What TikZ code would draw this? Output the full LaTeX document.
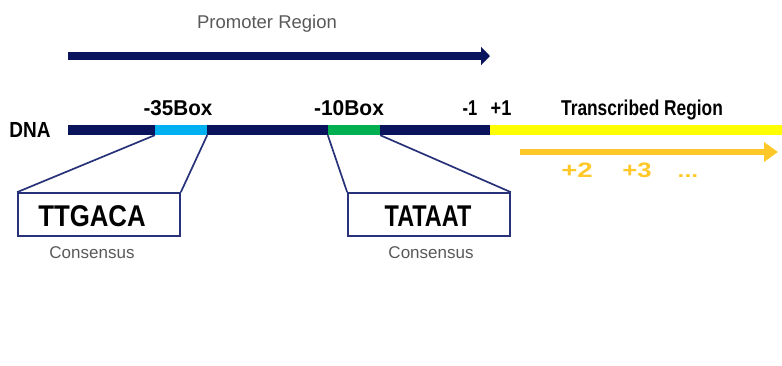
\documentclass[tikz,border=0pt]{standalone}
\usepackage{fontspec}
\setmainfont{Liberation Sans}
\usetikzlibrary{arrows.meta}

\definecolor{navy}{RGB}{10,20,92}
\definecolor{boxline}{RGB}{40,50,120}
\definecolor{skyseg}{RGB}{0,176,240}
\definecolor{greenseg}{RGB}{0,176,80}
\definecolor{yellowseg}{RGB}{255,255,0}
\definecolor{gold}{RGB}{255,200,40}
\definecolor{greytext}{RGB}{89,89,89}

\begin{document}
\begin{tikzpicture}[x=1pt,y=-1pt,
  seg/.style={rectangle, inner sep=0pt, minimum height=10pt, draw=none},
  conbox/.style={rectangle, draw=boxline, line width=1.7pt, inner sep=0pt,
                 minimum width=162pt, minimum height=43pt},
  link/.style={draw=boxline, line width=1.7pt},
  caption/.style={text=greytext, font=\fontsize{17}{20}\selectfont, inner sep=0pt},
  marker/.style={font=\bfseries\fontsize{16.5}{20}\selectfont, inner sep=0pt, anchor=base},
  seqtext/.style={font=\bfseries\fontsize{30}{34}\selectfont, inner sep=0pt, anchor=base},
  posnum/.style={text=gold, font=\bfseries\fontsize{19}{24}\selectfont, inner sep=0pt, anchor=base}]

\useasboundingbox (0,0) rectangle (782,365);

% promoter arrow and its caption
\coordinate (ps) at (68,56);
\coordinate (pe) at (490,56);
\draw[navy, line width=8pt, -{Triangle[length=9pt,width=18pt]}] (ps) -- (pe);
\node[caption, font=\fontsize{18.5}{22}\selectfont] (promlabel) at (267,24) {Promoter Region};

% DNA strand: promoter part, boxes, transcribed part
\node[seg, fill=navy, minimum width=422pt] (dna) at (279,130) {};
\node[seg, fill=skyseg, minimum width=52pt] (m35) at (181,130) {};
\node[seg, fill=greenseg, minimum width=52pt] (m10) at (354,130) {};
\node[seg, fill=yellowseg, minimum width=292pt, minimum height=9.5pt] (trx) at (636,129.75) {};
\node[font=\bfseries\fontsize{19}{24}\selectfont, inner sep=0pt] (dnalabel) at (30,130) {\scalebox{1}[1.15]{DNA}};

% labels above the strand
\node[marker] (l35) at (178,115) {\scalebox{1.25}[1.3]{-35Box}};
\node[marker] (l10) at (349,115) {\scalebox{1.27}[1.3]{-10Box}};
\node[marker] (lm1) at (470,115) {\scalebox{1}[1.3]{-1}};
\node[marker] (lp1) at (501,115) {\scalebox{1.1}[1.3]{+1}};
\node[marker] (ltr) at (642,115) {\scalebox{1.05}[1.3]{Transcribed Region}};

% direction of transcription
\coordinate (ts) at (520,152);
\coordinate (te) at (778,152);
\draw[gold, line width=6pt, -{Triangle[length=14pt,width=19pt]}] (ts) -- (te);
\node[posnum] (p2) at (577,177) {\scalebox{1.45}[1.1]{+2}};
\node[posnum] (p3) at (637,177) {\scalebox{1.35}[1.1]{+3}};
\node[posnum] (pdots) at (688,177) {\scalebox{1.3}[1]{...}};

% consensus boxes
\node[conbox] (c35) at (99,214.5) {};
\node[conbox] (c10) at (429,214.5) {};
\node[seqtext] (s35) at (92,226) {\scalebox{0.86}[1]{TTGACA}};
\node[seqtext] (s10) at (428,226) {\scalebox{0.78}[1]{TATAAT}};
\node[caption] (cap35) at (92,253) {Consensus};
\node[caption] (cap10) at (431,253) {Consensus};

% zoom-in connectors from strand boxes to consensus boxes
\draw[link] (m35.south west) -- (c35.north west);
\draw[link] (m35.south east) -- (c35.north east);
\draw[link] (m10.south west) -- (c10.north west);
\draw[link] (m10.south east) -- (c10.north east);

\end{tikzpicture}
\end{document}
